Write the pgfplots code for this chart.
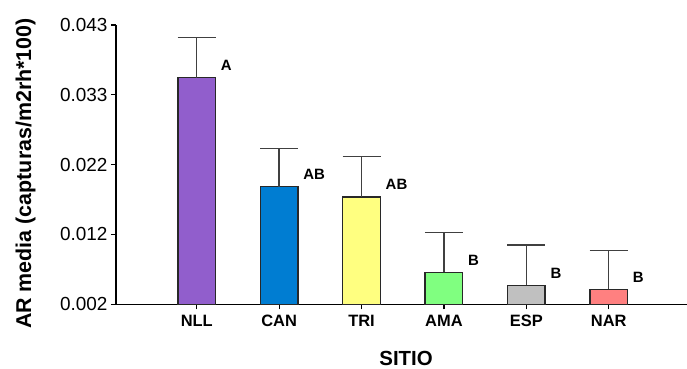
\documentclass[border=0pt]{standalone}
\usepackage{fontspec}
\setmainfont{Liberation Sans}
\usepackage{pgfplots}
\pgfplotsset{compat=1.18}
\definecolor{cNLL}{RGB}{145,94,204}
\definecolor{cCAN}{RGB}{0,125,210}
\definecolor{cTRI}{RGB}{255,255,128}
\definecolor{cAMA}{RGB}{128,255,128}
\definecolor{cESP}{RGB}{192,192,192}
\definecolor{cNAR}{RGB}{255,128,128}
\definecolor{edge}{RGB}{40,40,40}
\begin{document}
\begin{tikzpicture}
\begin{axis}[
  scale only axis, width=571bp, height=279.3bp,
  xmin=-0.98, xmax=5.95, ymin=0.002, ymax=0.043,
  axis x line*=bottom, axis y line*=left,
  axis line style={-, line width=1.2bp, black},
  scaled y ticks=false,
  ytick={0.002,0.01225,0.0225,0.03275,0.043},
  yticklabels={0.002,0.012,0.022,0.033,0.043},
  xtick={0,1,2,3,4,5},
  xticklabels={NLL,CAN,TRI,AMA,ESP,NAR},
  tick align=outside, major tick length=5bp,
  tick style={line width=1.2bp, black},
  yticklabel style={font=\fontsize{19}{19}\selectfont},
  xticklabel style={font=\bfseries\fontsize{16.5}{16.5}\selectfont, yshift=-2bp},
  ylabel={\bfseries AR media (capturas/m2rh*100)},
  xlabel={\bfseries SITIO},
  ylabel style={font=\fontsize{21.5}{21.5}\selectfont, at={(axis description cs:-0.1585,0.468)}, anchor=center},
  xlabel style={font=\fontsize{20.5}{20.5}\selectfont, at={(axis description cs:0.508,-0.194)}, anchor=center},
  ybar, bar width=37.5bp, bar shift=0pt,
  every axis plot/.append style={draw=edge, line width=1.4bp},
  nodes near coords, point meta=explicit symbolic,
  nodes near coords style={anchor=south west, inner sep=0pt, xshift=23.5bp, yshift=6.5bp, font=\bfseries\fontsize{15}{15}\selectfont, text=black},
  error bars/y dir=plus, error bars/y explicit,
  error bars/error bar style={line width=1.4bp, color=black!75},
  error bars/error mark options={line width=1.4bp, color=black!75, mark size=19bp, rotate=90},
  clip=false,
]
\addplot[fill=cNLL] table[x=x,y=y,y error=e,meta=l,row sep=\\] {x y e l\\ 0 0.03527 0.00587 A\\};
\addplot[fill=cCAN] table[x=x,y=y,y error=e,meta=l,row sep=\\] {x y e l\\ 1 0.01927 0.00563 AB\\};
\addplot[fill=cTRI] table[x=x,y=y,y error=e,meta=l,row sep=\\] {x y e l\\ 2 0.01776 0.00597 AB\\};
\addplot[fill=cAMA] table[x=x,y=y,y error=e,meta=l,row sep=\\] {x y e l\\ 3 0.00670 0.00581 B\\};
\addplot[fill=cESP] table[x=x,y=y,y error=e,meta=l,row sep=\\] {x y e l\\ 4 0.00479 0.00592 B\\};
\addplot[fill=cNAR] table[x=x,y=y,y error=e,meta=l,row sep=\\] {x y e l\\ 5 0.00420 0.00567 B\\};
\coordinate (O) at (rel axis cs:0,0);
\end{axis}
\pgfresetboundingbox
\path ([shift={(-116bp,-64.7bp)}]O) rectangle ([shift={(571bp,304.3bp)}]O);
\end{tikzpicture}
\end{document}
